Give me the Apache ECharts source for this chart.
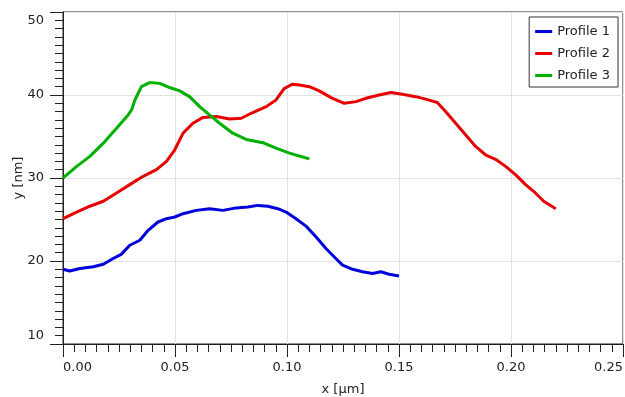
<!DOCTYPE html>
<html>
<head>
<meta charset="utf-8">
<script src="https://cdn.jsdelivr.net/npm/echarts@6/dist/echarts.min.js"></script>
<style>html,body{margin:0;padding:0;background:#fff;}#c{width:625px;height:397px;}</style>
</head>
<body>
<div id="c"></div>
<script>
var seriesNames = ['Profile 1', 'Profile 2', 'Profile 3'];
var p1x = [0, 0.003, 0.0076, 0.0135, 0.018, 0.0224, 0.026, 0.0298, 0.0343, 0.038, 0.0424, 0.0462, 0.0499, 0.0536, 0.0595, 0.0654, 0.0714, 0.0773, 0.0825, 0.087, 0.0914, 0.0959, 0.0996, 0.104, 0.1085, 0.113, 0.1174, 0.1218, 0.1248, 0.1293, 0.1337, 0.1382, 0.1419, 0.1456, 0.15];
var p1y = [19.0, 18.8, 19.1, 19.3, 19.6, 20.3, 20.8, 21.9, 22.5, 23.7, 24.7, 25.1, 25.3, 25.7, 26.1, 26.3, 26.1, 26.4, 26.5, 26.7, 26.6, 26.3, 25.9, 25.1, 24.2, 22.9, 21.5, 20.3, 19.5, 19.0, 18.7, 18.5, 18.7, 18.4, 18.2];
var p2x = [0, 0.0061, 0.012, 0.018, 0.0239, 0.0298, 0.0358, 0.0417, 0.0462, 0.0499, 0.0536, 0.058, 0.0625, 0.0684, 0.0744, 0.0796, 0.084, 0.0907, 0.0951, 0.0988, 0.1025, 0.1055, 0.11, 0.1144, 0.1203, 0.1256, 0.1308, 0.1352, 0.1411, 0.1464, 0.1515, 0.1575, 0.1619, 0.1671, 0.1708, 0.1753, 0.1797, 0.1842, 0.1886, 0.1931, 0.1976, 0.202, 0.2065, 0.2109, 0.2146, 0.22];
var p2y = [25.1, 25.9, 26.6, 27.2, 28.2, 29.2, 30.2, 31.0, 32.0, 33.4, 35.4, 36.6, 37.3, 37.4, 37.1, 37.2, 37.8, 38.6, 39.4, 40.8, 41.3, 41.2, 41.0, 40.5, 39.6, 39.0, 39.2, 39.6, 40.0, 40.3, 40.1, 39.8, 39.5, 39.1, 38.0, 36.6, 35.2, 33.8, 32.8, 32.25, 31.4, 30.4, 29.2, 28.2, 27.2, 26.3];
var p3x = [0, 0.0061, 0.012, 0.018, 0.0239, 0.0291, 0.0306, 0.0321, 0.035, 0.0387, 0.0432, 0.0476, 0.0521, 0.0565, 0.061, 0.0654, 0.0699, 0.0758, 0.0818, 0.0892, 0.0951, 0.1011, 0.1055, 0.11];
var p3y = [30.0, 31.4, 32.6, 34.2, 36.0, 37.6, 38.2, 39.4, 41.0, 41.5, 41.4, 40.9, 40.5, 39.8, 38.6, 37.6, 36.6, 35.4, 34.65, 34.25, 33.6, 33.0, 32.65, 32.3];
var colors = ['#0000dd', '#e60000', '#00b000'];

function pairs(xs, ys) { return xs.map(function (x, i) { return [x, ys[i]]; }); }
var allData = [pairs(p1x, p1y), pairs(p2x, p2y), pairs(p3x, p3y)];

var font = 'DejaVu Sans';
var lblStyle = { fontFamily: font, fontSize: 13, color: '#222' };
var pad = '       ';
var chart = echarts.init(document.getElementById('c'), null, { renderer: 'canvas' });
chart.setOption({
  animation: false,
  backgroundColor: '#fff',
  grid: { left: 63, right: 2, top: 12, bottom: 53, containLabel: false, outerBoundsMode: 'none',
    show: true, borderColor: '#222', borderWidth: 1, backgroundColor: 'transparent' },
  legend: {
    orient: 'vertical', right: 7, top: 17,
    borderColor: '#333', borderWidth: 1, padding: [7, 8, 4, 6],
    itemWidth: 17, itemHeight: 3, itemGap: 7, icon: 'rect',
    textStyle: { fontFamily: font, fontSize: 13, color: '#222', lineHeight: 15 },
    data: seriesNames
  },
  xAxis: {
    type: 'value', min: 0, max: 0.25, interval: 0.05,
    name: 'x [µm]', nameLocation: 'middle', nameGap: 39, nameMoveOverlap: false,
    nameTextStyle: lblStyle,
    axisLine: { show: true, lineStyle: { color: '#222', width: 1 } },
    axisTick: { show: true, inside: false, length: 13, lineStyle: { color: '#222' } },
    minorTick: { show: true, splitNumber: 10, length: 8, lineStyle: { color: '#222' } },
    splitLine: { show: true, lineStyle: { color: '#e2e2e2' } },
    axisLabel: { fontFamily: font, fontSize: 13, color: '#222', margin: 17,
      formatter: function (v) {
        var s = v.toFixed(2);
        if (v <= 0) return pad + s;
        if (v >= 0.25) return s + pad;
        return s;
      } }
  },
  yAxis: {
    type: 'value', min: 10, max: 50, interval: 10,
    name: 'y [nm]', nameLocation: 'middle', nameGap: 38, nameRotate: 90, nameMoveOverlap: false,
    nameTextStyle: lblStyle,
    axisLine: { show: true, lineStyle: { color: '#222', width: 1 } },
    axisTick: { show: true, inside: false, length: 13, lineStyle: { color: '#222' } },
    minorTick: { show: true, splitNumber: 10, length: 8, lineStyle: { color: '#222' } },
    splitLine: { show: true, lineStyle: { color: '#e2e2e2' } },
    axisLabel: { fontFamily: font, fontSize: 13, color: '#222', margin: 19, lineHeight: 17,
      formatter: function (v) {
        if (v >= 50) return '\n' + v;
        if (v <= 10) return v + '\n';
        return String(v);
      } }
  },
  series: seriesNames.map(function (n, i) {
    return {
      name: n, type: 'line', data: allData[i], showSymbol: false, symbol: 'none',
      lineStyle: { color: colors[i], width: 3 }, itemStyle: { color: colors[i] }
    };
  })
});
</script>
</body>
</html>
